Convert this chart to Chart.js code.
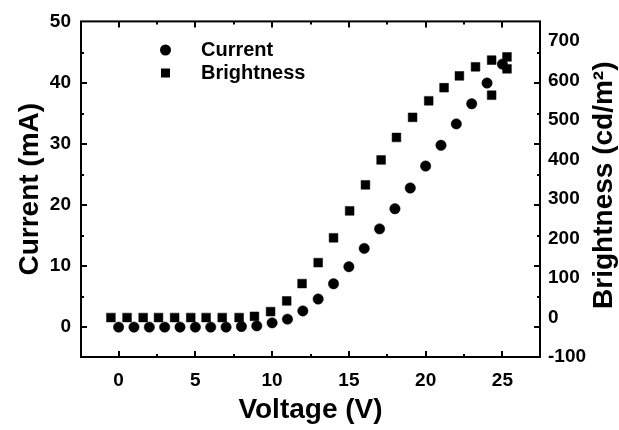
<!DOCTYPE html>
<html><head><meta charset="utf-8">
<script src="https://cdn.jsdelivr.net/npm/chart.js@4.4.1/dist/chart.umd.min.js"></script>
<style>html,body{margin:0;padding:0;background:#fff;}canvas{display:block;}</style>
</head><body>
<canvas id="c" width="619" height="430"></canvas>
<script>
// ---- data ----
const currentVoltage = [0,1,2,3,4,5,6,7,8,9,10,11,12,13,14,15,16,17,18,19,20,21,22,23,24,25];
const currentMA = [0,0,0,0,0,0,0,0,0.1,0.2,0.7,1.3,2.65,4.6,7.1,9.9,12.9,16.1,19.4,22.8,26.4,29.8,33.3,36.6,40.0,43.1];
const brightnessVoltage = [-0.5,0.55,1.6,2.6,3.65,4.7,5.7,6.75,7.85,8.85,9.9,10.95,11.95,13,14,15.05,16.08,17.1,18.1,19.15,20.2,21.2,22.2,23.25,24.3,24.3,25.3,25.3];
const brightnessCdm2 = [0,0,0,0,0,0,0,0,0,3,15,42,86,139,202,270,336,399,456,507,549,582,612,635,652,563,660,630];
const voltageTicks = [0,5,10,15,20,25];
const currentTicks = [0,10,20,30,40,50];
const brightnessTicks = [-100,0,100,200,300,400,500,600,700];
const seriesNames = ['Current','Brightness'];
const xTitle = 'Voltage (V)';
const yTitle = 'Current (mA)';
const y1Title = 'Brightness (cd/m\u00B2)';

const FAM = '"Liberation Sans", Arial, sans-serif';
const tickFont = {family: FAM, size: 19, weight: 'bold'};
const titleFont = {family: FAM, size: 28, weight: 'bold'};

function mids(arr){const m=[];for(let i=0;i<arr.length-1;i++)m.push((arr[i]+arr[i+1])/2);return m;}

const framePlugin = {
  id: 'frameTicks',
  afterDatasetsDraw(chart){
    const {ctx, chartArea:a, scales} = chart;
    const x = scales.x, y = scales.y;
    ctx.save();
    ctx.strokeStyle = '#000';
    ctx.lineWidth = 2;
    ctx.strokeRect(a.left, a.top, a.right - a.left, a.bottom - a.top);
    const drawX = (vals, len) => {
      vals.forEach(v => {
        const px = Math.round(x.getPixelForValue(v));
        if (px <= a.left || px >= a.right) return;
        ctx.beginPath();
        ctx.moveTo(px, a.bottom); ctx.lineTo(px, a.bottom - len);
        ctx.moveTo(px, a.top); ctx.lineTo(px, a.top + len);
        ctx.stroke();
      });
    };
    const drawY = (vals, len) => {
      vals.forEach(v => {
        const py = Math.round(y.getPixelForValue(v));
        if (py <= a.top + 1 || py >= a.bottom) return;
        ctx.beginPath();
        ctx.moveTo(a.left, py); ctx.lineTo(a.left + len, py);
        ctx.moveTo(a.right, py); ctx.lineTo(a.right - len, py);
        ctx.stroke();
      });
    };
    drawX(voltageTicks, 6); drawX(mids(voltageTicks), 3);
    drawY(currentTicks, 6); drawY(mids(currentTicks), 3);
    ctx.restore();
  },
  afterDraw(chart){
    const {ctx, chartArea:a} = chart;
    ctx.save();
    ctx.fillStyle = '#000';
    // right axis title, reading bottom to top
    ctx.translate(604, (a.top + a.bottom) / 2 - 4);
    ctx.rotate(-Math.PI / 2);
    ctx.font = 'bold 28px ' + FAM;
    ctx.textAlign = 'center';
    ctx.textBaseline = 'middle';
    ctx.fillText(y1Title, 0, 0);
    ctx.restore();
    // legend
    ctx.save();
    ctx.fillStyle = '#000';
    ctx.font = 'bold 20px ' + FAM;
    ctx.textBaseline = 'middle';
    ctx.textAlign = 'left';
    ctx.beginPath(); ctx.arc(165.5, 50, 5.5, 0, Math.PI * 2); ctx.fill();
    ctx.fillText(seriesNames[0], 201, 50);
    ctx.fillRect(161, 68.5, 9, 9);
    ctx.fillText(seriesNames[1], 201, 73);
    ctx.restore();
  }
};

new Chart(document.getElementById('c'), {
  type: 'scatter',
  data: {
    datasets: [
      {label: seriesNames[1], yAxisID: 'y1',
       data: brightnessVoltage.map((v,i)=>({x:v, y:brightnessCdm2[i]})),
       pointStyle: 'rect', pointRadius: 6.2, borderWidth: 0.5,
       backgroundColor: '#000', borderColor: '#000', showLine: false},
      {label: seriesNames[0], yAxisID: 'y',
       data: currentVoltage.map((v,i)=>({x:v, y:currentMA[i]})),
       pointStyle: 'circle', pointRadius: 5.2, borderWidth: 0.5,
       backgroundColor: '#000', borderColor: '#000', showLine: false}
    ]
  },
  options: {
    responsive: false, animation: false, devicePixelRatio: 1,
    layout: {padding: {top: 20, left: 0, right: 0, bottom: 0}},
    plugins: {legend: {display: false}, tooltip: {enabled: false}},
    scales: {
      x: {type: 'linear', position: 'bottom', min: -2.45, max: 27.45,
          grid: {display: false, drawTicks: false}, border: {display: false},
          afterBuildTicks: s => { s.ticks = voltageTicks.map(v => ({value: v})); },
          afterFit: s => { s.height = 73; },
          ticks: {font: tickFont, color: '#000', padding: 12, maxRotation: 0, autoSkip: false},
          title: {display: true, text: xTitle, font: titleFont, color: '#000', padding: {top: 0, bottom: 3}}},
      y: {type: 'linear', position: 'left', min: -4.9, max: 50.1,
          grid: {display: false, drawTicks: false}, border: {display: false},
          afterBuildTicks: s => { s.ticks = currentTicks.map(v => ({value: v})); },
          afterFit: s => { s.width = 81; },
          ticks: {font: tickFont, color: '#000', padding: 10, autoSkip: false},
          title: {display: true, text: yTitle, font: titleFont, color: '#000', padding: {top: 13, bottom: 0}}},
      y1: {type: 'linear', position: 'right', min: -100, max: 750,
          grid: {display: false, drawTicks: false}, border: {display: false},
          afterBuildTicks: s => { s.ticks = brightnessTicks.map(v => ({value: v})); },
          afterFit: s => { s.width = 79; },
          ticks: {font: tickFont, color: '#000', padding: 8, autoSkip: false},
          title: {display: false}}
    }
  },
  plugins: [framePlugin]
});
</script>
</body></html>
